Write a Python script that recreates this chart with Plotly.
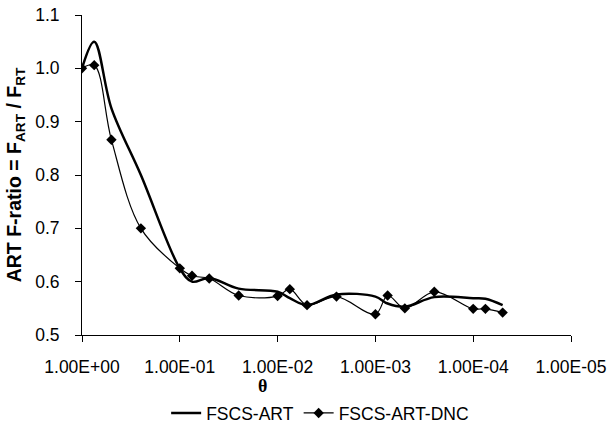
import plotly.graph_objects as go

theta = [1, 0.75, 0.5, 0.25, 0.1, 0.075, 0.05, 0.025, 0.01, 0.0075, 0.005,
         0.0025, 0.001, 0.00075, 0.0005, 0.00025, 0.0001, 0.000075, 0.00005]
fscs_art = [1.0, 1.05, 0.925, 0.80, 0.625, 0.600, 0.607, 0.587, 0.581, 0.569, 0.556,
            0.576, 0.572, 0.559, 0.553, 0.571, 0.569, 0.568, 0.556]
fscs_art_dnc = [1.0, 1.006, 0.866, 0.700, 0.625, 0.611, 0.606, 0.574, 0.573, 0.586, 0.556,
                0.572, 0.539, 0.574, 0.550, 0.581, 0.549, 0.549, 0.542]
x_tickvals = [1, 1e-1, 1e-2, 1e-3, 1e-4, 1e-5]
x_ticktext = ["1.00E+00", "1.00E-01", "1.00E-02", "1.00E-03", "1.00E-04", "1.00E-05"]
y_tickvals = [0.5, 0.6, 0.7, 0.8, 0.9, 1.0, 1.1]
y_ticktext = ["0.5", "0.6", "0.7", "0.8", "0.9", "1.0", "1.1"]

FONT = "Liberation Sans, Arial, sans-serif"

fig = go.Figure()
fig.add_trace(go.Scatter(
    x=theta, y=fscs_art, name="FSCS-ART", mode="lines",
    line=dict(color="black", width=2.5, shape="spline", smoothing=1.0),
))
fig.add_trace(go.Scatter(
    x=theta, y=fscs_art_dnc, name="FSCS-ART-DNC", mode="lines+markers",
    line=dict(color="black", width=1.2, shape="spline", smoothing=1.0),
    marker=dict(symbol="diamond", size=8, color="black"),
))

fig.update_layout(
    width=612, height=430,
    margin=dict(l=82, r=41, t=15, b=95, autoexpand=False),
    plot_bgcolor="white", paper_bgcolor="white",
    font=dict(family=FONT, size=17.5, color="black"),
    showlegend=True,
    legend=dict(orientation="h", x=0.487, y=-0.244, xanchor="center", yanchor="middle",
                font=dict(size=17.5), itemwidth=30, tracegroupgap=0),
    xaxis=dict(
        type="log", range=[0, -5], tickvals=x_tickvals, ticktext=x_ticktext,
        showgrid=False, zeroline=False, showline=True, linecolor="black", linewidth=1,
        ticks="outside", ticklen=6, tickcolor="black", ticklabelstandoff=10,
        automargin=False,
    ),
    yaxis=dict(
        range=[0.5, 1.1], tickvals=y_tickvals, ticktext=y_ticktext,
        showgrid=False, zeroline=False, showline=True, linecolor="black", linewidth=1,
        ticks="outside", ticklen=6, tickcolor="black", ticklabelstandoff=12,
        automargin=False,
        title=dict(text="<b>ART F-ratio = F<sub>ART</sub> / F<sub>RT</sub></b>",
                   font=dict(size=19.5), standoff=8),
    ),
    annotations=[dict(text="<b>θ</b>", x=0.37, y=-0.158, xref="paper", yref="paper",
                      showarrow=False, font=dict(size=18, family="Liberation Serif, serif"),
                      xanchor="center", yanchor="middle")],
)

fig.write_html("out.html")
